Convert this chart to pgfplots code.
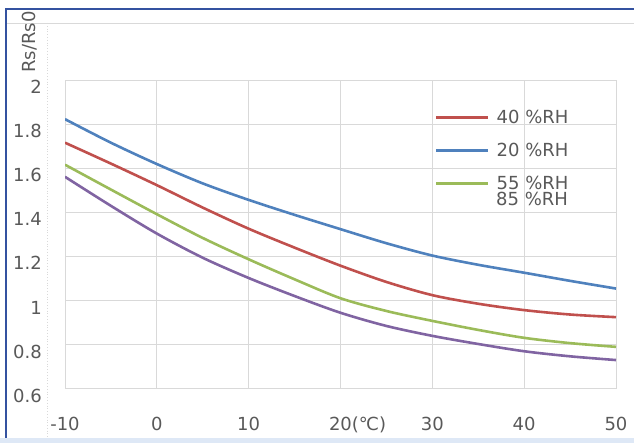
\documentclass[border=0pt]{standalone}
\usepackage{fontspec}
\setmainfont{DejaVu Sans}
\usepackage{pgfplots}
\pgfplotsset{compat=1.18}
\definecolor{cblue}{RGB}{79,129,189}
\definecolor{cred}{RGB}{192,80,77}
\definecolor{cgreen}{RGB}{155,187,89}
\definecolor{cpurple}{RGB}{128,100,162}
\definecolor{gridc}{RGB}{217,217,217}
\definecolor{txt}{RGB}{89,89,89}
\definecolor{frameblue}{RGB}{52,82,160}
\definecolor{bandblue}{RGB}{222,232,246}
\newcommand\fs{\fontsize{18bp}{21bp}\selectfont}
\begin{document}
\begin{tikzpicture}
\path[use as bounding box] (0,0) rectangle (634bp,443bp);
\fill[bandblue] (0,0) rectangle (634bp,5bp);
\draw[gridc, line width=0.8bp] (6bp,420bp) -- (634bp,420bp);
\draw[gridc, line width=0.8bp, dotted] (47bp,420bp) -- (47bp,5bp);
\draw[frameblue, line width=2bp] (5.5bp,5bp) -- (5.5bp,434bp) -- (634bp,434bp);
\begin{axis}[
  at={(65bp,55bp)}, anchor=south west,
  scale only axis, width=551bp, height=308bp,
  xmin=-10, xmax=50, ymin=0.6, ymax=2,
  xtick={-10,0,10,20,30,40,50},
  xticklabels={-10,0,10,20\rlap{(℃)},30,40,50},
  ytick={0.6,0.8,1,1.2,1.4,1.6,1.8,2},
  yticklabels={0.6,0.8,1,1.2,1.4,1.6,1.8,2},
  major tick length=0pt,
  grid=major,
  major grid style={gridc, line width=0.8bp},
  axis line style={gridc, line width=0.8bp},
  tick label style={font=\fs, text=txt, inner sep=0pt},
  xticklabel style={anchor=base, yshift=-42bp},
  yticklabel style={anchor=base east, xshift=-23bp, yshift=-14bp},
  ylabel={Rs/Rs0},
  ylabel style={font=\fs, text=txt, at={(axis description cs:-0.0635,1.123)}, anchor=center, inner sep=0pt},
  legend style={at={(0.666,0.909)}, anchor=north west, draw=none, fill=none,
    font=\fs, text=txt, row sep=18bp, nodes={inner sep=0pt}},
  legend cell align=left,
  legend image code/.code={\draw[#1, line width=2.4bp] (0bp,0bp) -- (52bp,0bp); \path (59bp,0bp);},
]
\addplot[cred, line width=2.6bp, smooth] coordinates {
(-10,1.715) (-5,1.620) (0,1.522) (5,1.420) (10,1.324) (15,1.238) (20,1.156)
(25,1.082) (30,1.022) (35,0.983) (40,0.954) (45,0.934) (50,0.922)};
\addlegendentry{40 \%RH}
\addplot[cblue, line width=2.6bp, smooth] coordinates {
(-10,1.822) (-5,1.715) (0,1.618) (5,1.530) (10,1.455) (15,1.387) (20,1.322)
(25,1.258) (30,1.202) (35,1.160) (40,1.124) (45,1.087) (50,1.052)};
\addlegendentry{20 \%RH}
\addplot[cgreen, line width=2.6bp, smooth] coordinates {
(-10,1.615) (-5,1.502) (0,1.390) (5,1.282) (10,1.185) (15,1.094) (20,1.008)
(25,0.950) (30,0.905) (35,0.864) (40,0.828) (45,0.804) (50,0.787)};
\addlegendentry{55 \%RH}
\addplot[cpurple, line width=2.6bp, smooth, forget plot] coordinates {
(-10,1.560) (-5,1.428) (0,1.302) (5,1.192) (10,1.100) (15,1.018) (20,0.942)
(25,0.882) (30,0.837) (35,0.800) (40,0.767) (45,0.744) (50,0.727)};
\node[font=\fs, text=txt, anchor=base west, inner sep=0pt] at (axis cs:36.93,1.429) {85 \%RH};
\end{axis}
\end{tikzpicture}
\end{document}
